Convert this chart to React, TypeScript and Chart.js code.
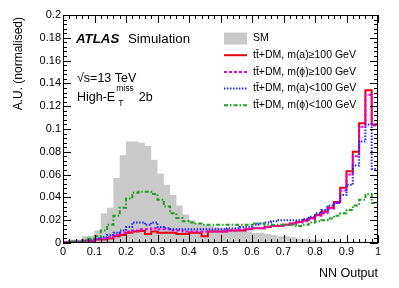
import React, { useEffect, useRef } from "react";
import { Chart, registerables } from "chart.js";

Chart.register(...registerables);

// Lower bin edges (bin width 0.02) of the NN output histograms
const binLowEdges = [
  0, 0.02, 0.04, 0.06, 0.08, 0.1, 0.12, 0.14, 0.16, 0.18,
  0.2, 0.22, 0.24, 0.26, 0.28, 0.3, 0.32, 0.34, 0.36, 0.38,
  0.4, 0.42, 0.44, 0.46, 0.48, 0.5, 0.52, 0.54, 0.56, 0.58,
  0.6, 0.62, 0.64, 0.66, 0.68, 0.7, 0.72, 0.74, 0.76, 0.78,
  0.8, 0.82, 0.84, 0.86, 0.88, 0.9, 0.92, 0.94, 0.96, 0.98,
];
const xUpperEdge = 1.0;

const smValues = [
  0.001, 0.003, 0.003, 0.006, 0.006, 0.011, 0.026, 0.031, 0.057, 0.077,
  0.089, 0.089, 0.088, 0.085, 0.073, 0.061, 0.051, 0.042, 0.033, 0.025,
  0.020, 0.017, 0.016, 0.015, 0.014, 0.013, 0.012, 0.012, 0.011, 0.010,
  0.009, 0.009, 0.008, 0.007, 0.006, 0.006, 0.005, 0.004, 0.004, 0.003,
  0.003, 0.002, 0.002, 0.002, 0.001, 0.001, 0.001, 0.001, 0.001, 0.001,
];

const maHighValues = [
  0.0005, 0.001, 0.001, 0.002, 0.002, 0.003, 0.003, 0.004, 0.006, 0.007,
  0.009, 0.010, 0.0105, 0.008, 0.010, 0.009, 0.009, 0.009, 0.008, 0.008,
  0.009, 0.009, 0.006, 0.010, 0.010, 0.010, 0.011, 0.011, 0.011, 0.012,
  0.013, 0.013, 0.014, 0.015, 0.015, 0.016, 0.017, 0.0185, 0.020, 0.022,
  0.0245, 0.0275, 0.031, 0.036, 0.0485, 0.063, 0.080, 0.105, 0.134, 0.104,
];

const mphiHighValues = [
  0.0005, 0.001, 0.001, 0.002, 0.002, 0.003, 0.004, 0.005, 0.007, 0.009,
  0.010, 0.011, 0.012, 0.012, 0.013, 0.012, 0.012, 0.011, 0.011, 0.010,
  0.010, 0.010, 0.010, 0.010, 0.010, 0.010, 0.011, 0.011, 0.012, 0.012,
  0.013, 0.013, 0.014, 0.015, 0.015, 0.016, 0.017, 0.018, 0.019, 0.021,
  0.024, 0.026, 0.030, 0.035, 0.046, 0.060, 0.076, 0.102, 0.130, 0.103,
];

const maLowValues = [
  0.0005, 0.001, 0.001, 0.002, 0.003, 0.004, 0.005, 0.007, 0.009, 0.011,
  0.014, 0.018, 0.018, 0.016, 0.018, 0.014, 0.013, 0.012, 0.012, 0.012,
  0.012, 0.012, 0.012, 0.012, 0.012, 0.012, 0.013, 0.013, 0.014, 0.014,
  0.016, 0.017, 0.018, 0.019, 0.020, 0.020, 0.020, 0.020, 0.021, 0.023,
  0.026, 0.029, 0.033, 0.035, 0.042, 0.051, 0.068, 0.089, 0.104, 0.065,
];

const mphiLowValues = [
  0.000, 0.001, 0.001, 0.002, 0.004, 0.006, 0.011, 0.016, 0.024, 0.031,
  0.039, 0.044, 0.045, 0.045, 0.043, 0.038, 0.032, 0.026, 0.022, 0.019,
  0.018, 0.017, 0.016, 0.016, 0.016, 0.016, 0.016, 0.016, 0.016, 0.016,
  0.017, 0.017, 0.016, 0.016, 0.016, 0.016, 0.016, 0.015, 0.016, 0.018,
  0.019, 0.020, 0.0215, 0.024, 0.026, 0.029, 0.033, 0.038, 0.043, 0.035,
];

const xMajorTicks = [0, 0.1, 0.2, 0.3, 0.4, 0.5, 0.6, 0.7, 0.8, 0.9, 1];
const xTickLabels = ["0", "0.1", "0.2", "0.3", "0.4", "0.5", "0.6", "0.7", "0.8", "0.9", "1"];
const yMajorTicks = [0, 0.02, 0.04, 0.06, 0.08, 0.1, 0.12, 0.14, 0.16, 0.18, 0.2];
const yTickLabels = ["0", "0.02", "0.04", "0.06", "0.08", "0.1", "0.12", "0.14", "0.16", "0.18", "0.2"];
const xMinorStep = 0.02;
const yMinorStep = 0.004;

const TTBAR = "tt\u0304";
const legendLabels = [
  "SM",
  TTBAR + "+DM, m(a)\u2265100 GeV",
  TTBAR + "+DM, m(\u03d5)\u2265100 GeV",
  TTBAR + "+DM, m(a)<100 GeV",
  TTBAR + "+DM, m(\u03d5)<100 GeV",
];

const FONT = "'Liberation Sans', Arial, Helvetica, sans-serif";

const COLORS = {
  sm: "#c9c9c9",
  red: "#e60012",
  magenta: "#e600e6",
  blue: "#2424ff",
  green: "#1f9f1f",
};

const STYLES = [
  { color: COLORS.red, dash: [] as number[] },
  { color: COLORS.magenta, dash: [3, 2] },
  { color: COLORS.blue, dash: [1.5, 1.5] },
  { color: COLORS.green, dash: [4, 2, 1.5, 2] },
];

function histPoints(values: number[]) {
  const pts = values.map((v, i) => ({ x: binLowEdges[i], y: v }));
  pts.push({ x: xUpperEdge, y: values[values.length - 1] });
  return pts;
}

const decorPlugin = {
  id: "atlasDecor",
  afterDraw(chart: any) {
    const { ctx, chartArea: a, scales } = chart;
    const xs = scales.x;
    const ys = scales.y;
    ctx.save();

    // ticks
    ctx.strokeStyle = "#000";
    ctx.lineWidth = 1;
    ctx.beginPath();
    const majLen = 8;
    const minLen = 4;
    const isMajor = (v: number, list: number[]) => list.some((m) => Math.abs(m - v) < 1e-6);
    for (let k = 0; k <= 50; k++) {
      const v = k * xMinorStep;
      const px = Math.round(xs.getPixelForValue(v)) + 0.5;
      const len = isMajor(v, xMajorTicks) ? majLen : minLen;
      ctx.moveTo(px, a.bottom);
      ctx.lineTo(px, a.bottom - len);
      ctx.moveTo(px, a.top);
      ctx.lineTo(px, a.top + len);
    }
    for (let k = 0; k <= 50; k++) {
      const v = k * yMinorStep;
      const py = Math.round(ys.getPixelForValue(v)) + 0.5;
      const len = isMajor(v, yMajorTicks) ? majLen : minLen;
      ctx.moveTo(a.left, py);
      ctx.lineTo(a.left + len, py);
      ctx.moveTo(a.right, py);
      ctx.lineTo(a.right - len, py);
    }
    ctx.stroke();

    // frame
    ctx.strokeRect(a.left + 0.5, a.top + 0.5, a.right - a.left - 1, a.bottom - a.top - 1);

    // tick labels
    ctx.fillStyle = "#000";
    ctx.font = `11px ${FONT}`;
    ctx.textAlign = "center";
    ctx.textBaseline = "top";
    xMajorTicks.forEach((v, i) => {
      ctx.fillText(xTickLabels[i], xs.getPixelForValue(v), a.bottom + 3);
    });
    ctx.textAlign = "right";
    ctx.textBaseline = "middle";
    yMajorTicks.forEach((v, i) => {
      ctx.fillText(yTickLabels[i], a.left - 2, ys.getPixelForValue(v));
    });

    // axis titles
    ctx.font = `12.5px ${FONT}`;
    ctx.textAlign = "right";
    ctx.textBaseline = "middle";
    ctx.fillText("NN Output", a.right, 274);
    ctx.save();
    ctx.translate(19, a.top + 2);
    ctx.rotate(-Math.PI / 2);
    ctx.font = `12px ${FONT}`;
    ctx.textAlign = "right";
    ctx.fillText("A.U. (normalised)", 0, 0);
    ctx.restore();

    // ATLAS label
    ctx.textAlign = "left";
    ctx.textBaseline = "middle";
    ctx.font = `italic bold 13.3px ${FONT}`;
    ctx.fillText("ATLAS", 76, 39);
    ctx.font = `13.3px ${FONT}`;
    ctx.fillText("Simulation", 128, 39);
    ctx.font = `12.5px ${FONT}`;
    ctx.fillText("\u221as=13 TeV", 77, 79);
    const hx = 77;
    const hy = 98;
    ctx.fillText("High-E", hx, hy);
    const w1 = ctx.measureText("High-E").width;
    ctx.font = `8.5px ${FONT}`;
    ctx.fillText("miss", hx + w1 + 1, hy - 9);
    const wm = ctx.measureText("miss").width;
    ctx.fillText("T", hx + w1 + 3, hy + 6);
    ctx.font = `12.5px ${FONT}`;
    ctx.fillText("2b", hx + w1 + 1 + wm + 5, hy);

    // legend
    const lx0 = 224;
    const lx1 = 247;
    const ty = 38.5;
    const dy = 16.7;
    ctx.fillStyle = COLORS.sm;
    ctx.fillRect(lx0, ty - 6, lx1 - lx0, 12);
    STYLES.forEach((s, i) => {
      const y = ty + dy * (i + 1);
      ctx.strokeStyle = s.color;
      ctx.lineWidth = 2;
      ctx.setLineDash(s.dash);
      ctx.beginPath();
      ctx.moveTo(lx0, y);
      ctx.lineTo(lx1, y);
      ctx.stroke();
    });
    ctx.setLineDash([]);
    ctx.fillStyle = "#000";
    ctx.font = `10.5px ${FONT}`;
    legendLabels.forEach((t, i) => {
      ctx.fillText(t, 253, ty + dy * i);
    });

    ctx.restore();
  },
};

export default function App() {
  const canvasRef = useRef<HTMLCanvasElement | null>(null);

  useEffect(() => {
    const canvas = canvasRef.current;
    if (!canvas) return;
    const seriesList = [maHighValues, mphiHighValues, maLowValues, mphiLowValues];
    const lineSets = seriesList.map((vals, i) => ({
      label: legendLabels[i + 1],
      data: histPoints(vals),
      stepped: "before" as const,
      fill: false,
      borderColor: STYLES[i].color,
      borderDash: STYLES[i].dash,
      borderWidth: 2,
      borderJoinStyle: "miter" as const,
      pointRadius: 0,
      order: 4 - i,
    }));
    const chart = new Chart(canvas, {
      type: "line",
      data: {
        datasets: [
          {
            label: "SM",
            data: histPoints(smValues),
            stepped: "before",
            fill: "origin",
            backgroundColor: COLORS.sm,
            borderColor: "rgba(0,0,0,0)",
            borderWidth: 0,
            pointRadius: 0,
            order: 10,
          },
          ...lineSets,
        ] as any,
      },
      options: {
        animation: false,
        responsive: false,
        maintainAspectRatio: false,
        layout: { padding: { left: 63, right: 21, top: 15, bottom: 45 } },
        plugins: {
          legend: { display: false },
          tooltip: { enabled: false },
        },
        scales: {
          x: { type: "linear", min: 0, max: 1, display: false },
          y: { type: "linear", min: 0, max: 0.2, display: false },
        },
        elements: { line: { tension: 0 }, point: { radius: 0 } },
      },
      plugins: [decorPlugin],
    });
    return () => chart.destroy();
  }, []);

  return (
    <div style={{ position: "fixed", left: 0, top: 0, width: 399, height: 288, background: "#fff" }}>
      <canvas ref={canvasRef} width={399} height={288} style={{ display: "block", width: 399, height: 288 }} />
    </div>
  );
}
